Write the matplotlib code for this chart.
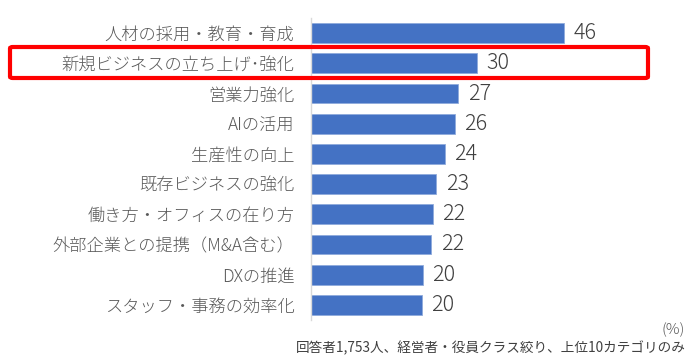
import matplotlib.pyplot as plt
from matplotlib.patches import FancyBboxPatch

plt.rcParams['font.family'] = ['Noto Sans CJK JP', 'DejaVu Sans']

categories = [
    "人材の採用・教育・育成",
    "新規ビジネスの立ち上げ･強化",
    "営業力強化",
    "AIの活用",
    "生産性の向上",
    "既存ビジネスの強化",
    "働き方・オフィスの在り方",
    "外部企業との提携（M&A含む）",
    "DXの推進",
    "スタッフ・事務の効率化",
]
values = [46.0, 30.2, 26.8, 26.2, 24.3, 22.8, 22.2, 21.9, 20.4, 20.2]
labels = ["46", "30", "27", "26", "24", "23", "22", "22", "20", "20"]

fig = plt.figure(figsize=(6.96, 3.64), dpi=100)
W, H = 696, 364
ax = fig.add_axes([311 / W, 1 - 320 / H, 375 / W, 302 / H])

y = list(range(len(categories)))
ax.barh(y, values, height=0.66, color="#4472C4", edgecolor="#8FAADC", linewidth=0.6)
ax.set_ylim(len(categories) - 0.5, -0.5)
ax.set_xlim(0, 375 / 5.5)

for yi, v, lab in zip(y, values, labels):
    ax.text(v + 1.7, yi, lab, va="center", ha="left", fontsize=15.5,
            fontweight="light", color="#404040")

ax.set_yticks(y)
ax.set_yticklabels(categories, fontsize=12.4, fontweight="light", color="#595959")
ax.tick_params(axis="y", length=0, pad=12)
ax.set_xticks([])
for s in ["top", "right", "bottom"]:
    ax.spines[s].set_visible(False)
ax.spines["left"].set_color("#D9D9D9")
ax.spines["left"].set_linewidth(1)

# red box around the highlighted row
box = FancyBboxPatch((10 / W, 1 - 78 / H), 638 / W, 31 / H,
                     boxstyle="round,pad=0,rounding_size=0.004",
                     transform=fig.transFigure, fill=False,
                     edgecolor="#FF0000", linewidth=3, clip_on=False)
fig.patches.append(box)

fig.text(685 / W, 1 - 330 / H, "(%)", ha="right", va="center", fontsize=11,
         fontweight="light", color="#595959")
fig.text(686 / W, 1 - 348 / H, "回答者1,753人、経営者・役員クラス絞り、上位10カテゴリのみ",
         ha="right", va="center", fontsize=9.8, color="#404040")

fig.savefig("out.png", dpi=100)
